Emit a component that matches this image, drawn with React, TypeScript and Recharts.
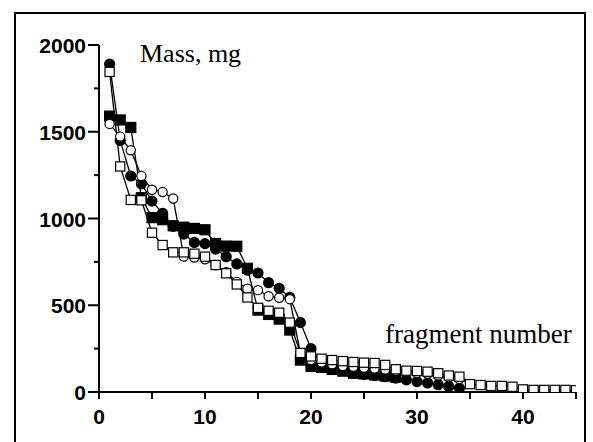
import { LineChart, Line, XAxis, YAxis } from 'recharts';

// masses (mg) per fragment number; fragment n = index + 1
const filledCircles = [1890, 1450, 1245, 1200, 1100, 1030, 955, 910, 862, 855, 824, 780, 738, 703, 686, 630, 598, 545, 400, 250,
  165, 140, 125, 112, 102, 95, 88, 80, 70, 60, 52, 42, 32, 22];
const openCircles = [1545, 1472, 1393, 1245, 1166, 1153, 1115, 781, 775, 765, 732, 690, 635, 595, 587, 552, 543, 535, 222, 185,
  170, 160, 150, 145, 140, 135, 130, 122, 115, 110, 105, 95, 85, 75];
const filledSquares = [1590, 1568, 1525, 1120, 1005, 993, 958, 950, 943, 935, 856, 841, 840, 713, 472, 447, 420, 357, 184, 148,
  142, 130, 120, 108, 104, 98, 92, 85];
const openSquares = [1845, 1300, 1107, 1105, 918, 847, 805, 805, 797, 780, 732, 684, 620, 545, 485, 468, 457, 400, 225, 205,
  192, 184, 178, 173, 169, 167, 156, 131, 123, 121, 117, 108, 95, 88, 45, 40, 35, 35, 30, 15,
  12, 12, 12, 12, 10];

const xTicks = [0, 5, 10, 15, 20, 25, 30, 35, 40, 45];
const yTicks = [0, 250, 500, 750, 1000, 1250, 1500, 1750, 2000];

const data = openSquares.map((v, i) => ({
  n: i + 1,
  fc: filledCircles[i],
  oc: openCircles[i],
  fs: filledSquares[i],
  os: v,
}));

const labelFont = 'Arial, "Liberation Sans", Helvetica, sans-serif';
const serif = '"Times New Roman", "Liberation Serif", serif';

const makeDot = (shape: 'circle' | 'square', filled: boolean) => (p: any) => {
  const key = `d-${shape}-${filled}-${p.index}`;
  if (p.cx == null || p.cy == null || p.value == null) return <g key={key} />;
  const fill = filled ? '#000' : '#fff';
  if (shape === 'circle') {
    return <circle key={key} cx={p.cx} cy={p.cy} r={filled ? 5 : 4.6} fill={fill} stroke="#000" strokeWidth={1.2} />;
  }
  const s = filled ? 10 : 9.2;
  return <rect key={key} x={p.cx - s / 2} y={p.cy - s / 2} width={s} height={s} fill={fill} stroke="#000" strokeWidth={1.2} />;
};

const YTick = (props: any) => {
  const { x, y, payload } = props;
  const major = payload.value % 500 === 0;
  return (
    <g>
      <line x1={x - (major ? 11 : 5)} x2={x} y1={y} y2={y} stroke="#000" strokeWidth={2} />
      {major && (
        <text x={x - 13} y={y} dy={8} textAnchor="end" fontFamily={labelFont} fontWeight="bold" fontSize={21} fill="#000">
          {payload.value}
        </text>
      )}
    </g>
  );
};

const XTick = (props: any) => {
  const { x, y, payload } = props;
  const major = payload.value % 10 === 0;
  return (
    <g>
      <line x1={x} x2={x} y1={y} y2={y + 7} stroke="#000" strokeWidth={2} />
      {major && (
        <text x={x} y={y + 32} textAnchor="middle" fontFamily={labelFont} fontWeight="bold" fontSize={21} fill="#000">
          {payload.value}
        </text>
      )}
    </g>
  );
};

export default function App() {
  return (
    <div style={{ position: 'absolute', left: 0, top: 0, width: 593, height: 442, background: '#fff', overflow: 'hidden' }}>
      <div style={{ position: 'absolute', left: 14, top: 12, width: 568, height: 440, border: '2px solid #000' }} />
      <LineChart width={593} height={442} data={data} margin={{ top: 45, right: 17, bottom: 20, left: 39 }}
        style={{ position: 'absolute', left: 0, top: 0 }}>
        <XAxis dataKey="n" type="number" domain={[0, 45]} ticks={xTicks} height={30} tickSize={0} tickMargin={0}
          allowDataOverflow interval={0} tick={XTick} tickLine={false} axisLine={{ stroke: '#000', strokeWidth: 2 }} />
        <YAxis type="number" domain={[0, 2000]} ticks={yTicks} width={60} tickSize={0} tickMargin={0}
          allowDataOverflow interval={0} tick={YTick} tickLine={false} axisLine={{ stroke: '#000', strokeWidth: 2 }} />
        <Line dataKey="fs" stroke="#000" strokeWidth={1.3} dot={makeDot('square', true)} activeDot={false} isAnimationActive={false} />
        <Line dataKey="fc" stroke="#000" strokeWidth={1.3} dot={makeDot('circle', true)} activeDot={false} isAnimationActive={false} />
        <Line dataKey="oc" stroke="#000" strokeWidth={1.3} dot={makeDot('circle', false)} activeDot={false} isAnimationActive={false} />
        <Line dataKey="os" stroke="#000" strokeWidth={1.3} dot={makeDot('square', false)} activeDot={false} isAnimationActive={false} />
      </LineChart>
      <div style={{ position: 'absolute', left: 140, top: 39, fontFamily: serif, fontSize: 26, color: '#000', lineHeight: '30px', whiteSpace: 'nowrap' }}>
        Mass, mg
      </div>
      <div style={{ position: 'absolute', left: 385, top: 319, fontFamily: serif, fontSize: 27, color: '#000', lineHeight: '30px', whiteSpace: 'nowrap' }}>
        fragment number
      </div>
    </div>
  );
}
